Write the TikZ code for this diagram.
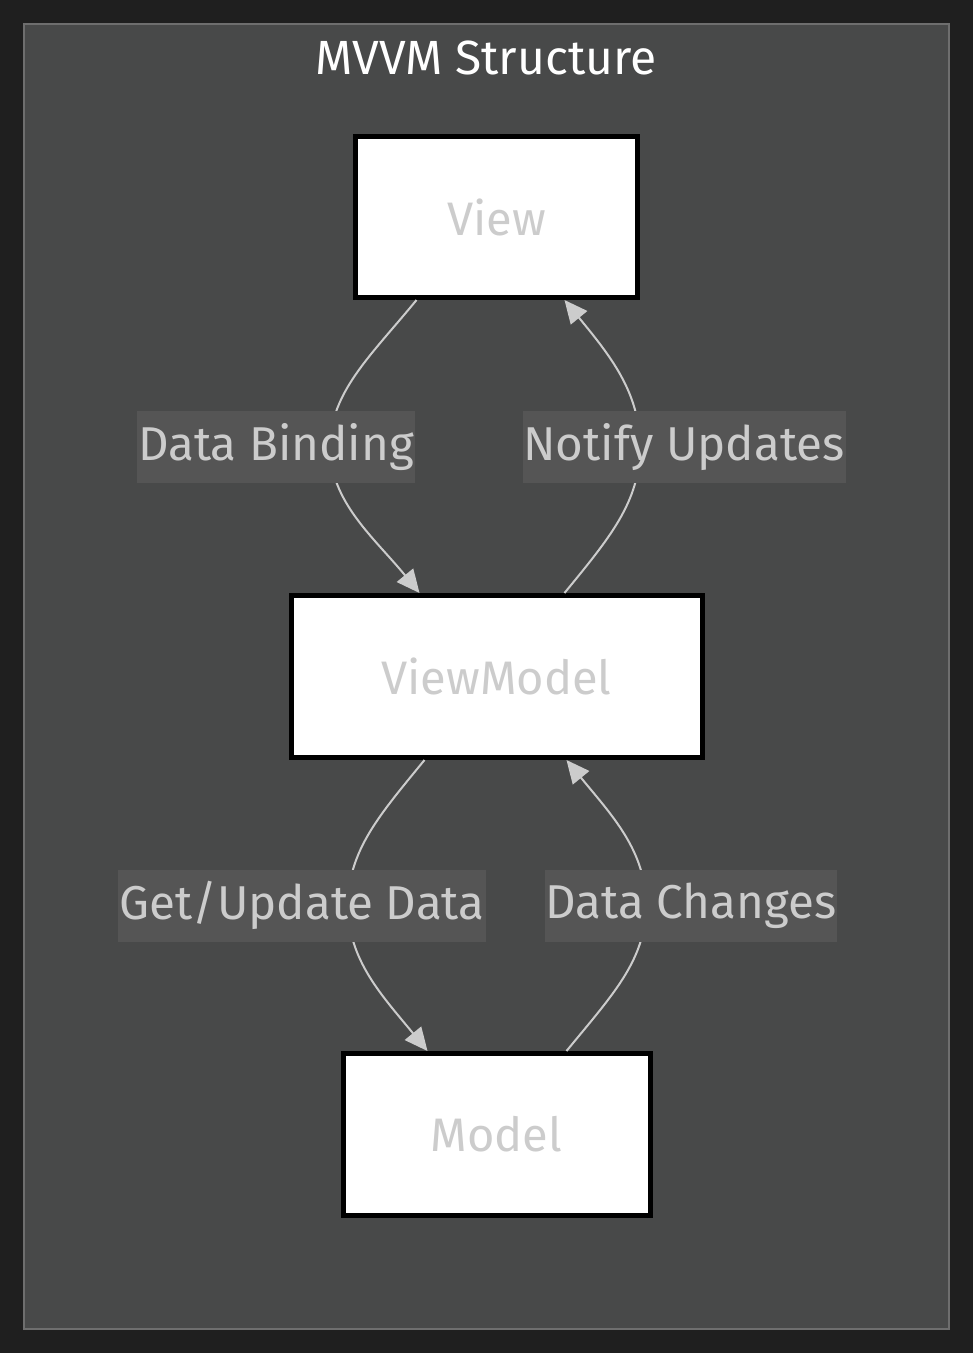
\documentclass[tikz,border=0pt]{standalone}
\usepackage{fontspec}
\setmainfont{Fira Sans}
\usepackage{xcolor}
\usepackage{tikz}
\usetikzlibrary{arrows.meta,positioning}
\definecolor{pagebg}{HTML}{1F1F1F}
\definecolor{clusterbg}{HTML}{484949}
\definecolor{clusterln}{HTML}{6E6E6E}
\definecolor{lblbg}{HTML}{555555}
\definecolor{txtgray}{HTML}{CCCCCC}
\tikzset{
  box/.style={draw=black, line width=5pt, fill=white, text=txtgray,
              font=\fontsize{47}{54}\selectfont},
  lbl/.style={fill=lblbg, text=txtgray, inner xsep=1pt, inner ysep=0pt,
              minimum height=72pt, font=\fontsize{47.5}{54}\selectfont},
  flow/.style={draw=txtgray, line width=2pt,
               -{Triangle[length=23pt,width=21pt]}},
}

\begin{document}
\begin{tikzpicture}[x=1pt,y=-1pt]
    \fill[pagebg] (0,0) rectangle (973,1353);
    \useasboundingbox (0,0) rectangle (973,1353);
    \draw[clusterln, fill=clusterbg, line width=2pt] (24,24) rectangle (949,1329);
    \node[text=white, font=\fontsize{48}{54}\selectfont] (title) at (486,58) {MVVM Structure};

    \node[box, minimum width=282pt, minimum height=161pt] (view) at (496.5,217) {View};
    \node[box, minimum width=411pt, minimum height=162pt, below=293pt of view] (vm) {ViewModel};
    \node[box, minimum width=307pt, minimum height=162pt, below=291pt of vm] (model) {Model};

    % edges
    \draw[flow] ([xshift=-80pt]view.south) .. controls +(-45,55) and +(0,-55) .. (330,447)
      .. controls +(0,55) and +(-45,-55) .. ([xshift=-77pt]vm.north);
    \draw[flow] ([xshift=68pt]vm.north) .. controls +(45,-55) and +(0,55) .. (640,447)
      .. controls +(0,-55) and +(45,55) .. ([xshift=68pt]view.south);
    \draw[flow] ([xshift=-72pt]vm.south) .. controls +(-45,55) and +(0,-55) .. (348,905.5)
      .. controls +(0,55) and +(-45,-55) .. ([xshift=-69pt]model.north);
    \draw[flow] ([xshift=70pt]model.north) .. controls +(45,-55) and +(0,55) .. (646,905.5)
      .. controls +(0,-55) and +(45,55) .. ([xshift=70pt]vm.south);

    % labels
    \node[lbl] (bind) at (276,447) {Data Binding};
    \node[lbl] (notify) at (684,447) {Notify Updates};
    \node[lbl] (getupd) at (302,905.5) {Get/Update Data};
    \node[lbl] (changes) at (691,905.5) {Data Changes};
\end{tikzpicture}
\end{document}
